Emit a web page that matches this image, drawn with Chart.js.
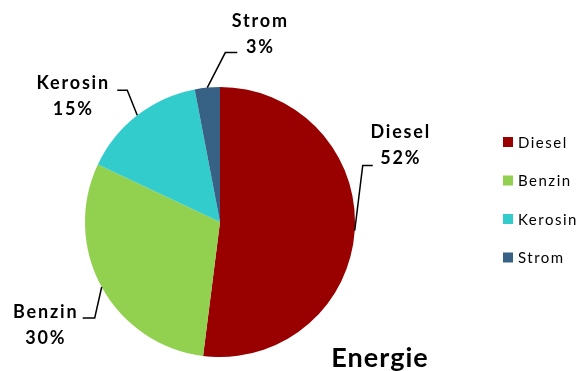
<!DOCTYPE html>
<html>
<head>
<meta charset="utf-8">
<script src="https://cdn.jsdelivr.net/npm/chart.js@4"></script>
<style>
  html, body { margin: 0; padding: 0; background: #fff; }
  #wrap { width: 583px; height: 371px; }
</style>
</head>
<body>
<div id="wrap"><canvas id="grafico-energie" width="583" height="371"></canvas></div>
<script>
// data
const categorias = ['Diesel', 'Benzin', 'Kerosin', 'Strom'];
const anteile = [52, 30, 15, 3];
const titel = 'Energie';

const farben = ['#990000', '#92D050', '#33CCCC', '#376185'];

// label offsets relative to the outer midpoint of each slice
const labelStil = [
    { knick: [8, -65], ende: [18, -65], text: [46, -98] },
    { knick: [-7, 31], ende: [-19, 31], text: [-56, 25] },
    { knick: [-10, -25], ende: [-20, -25], text: [-64, -32] },
    { knick: [18, -35], ende: [30, -35], text: [53, -66] }
];

const schrift = 'Lato, "Open Sans", sans-serif';

const etikettenPlugin = {
    id: 'etiketten',
    afterDatasetsDraw(chart) {
        const ctx = chart.ctx;
        const meta = chart.getDatasetMeta(0);
        ctx.save();
        meta.data.forEach(function(arc, i) {
            const mitte = (arc.startAngle + arc.endAngle) / 2;
            const ax = arc.x + Math.cos(mitte) * arc.outerRadius;
            const ay = arc.y + Math.sin(mitte) * arc.outerRadius;
            const s = labelStil[i];
            ctx.strokeStyle = '#000';
            ctx.lineWidth = 1.5;
            ctx.beginPath();
            ctx.moveTo(ax, ay);
            ctx.lineTo(ax + s.knick[0], ay + s.knick[1]);
            ctx.lineTo(ax + s.ende[0], ay + s.ende[1]);
            ctx.stroke();

            ctx.fillStyle = '#000';
            ctx.font = 'bold 18px ' + schrift;
            ctx.letterSpacing = '1.8px';
            ctx.textAlign = 'center';
            ctx.textBaseline = 'middle';
            ctx.fillText(chart.data.labels[i], ax + s.text[0], ay + s.text[1]);
            ctx.fillText(chart.data.datasets[0].data[i] + '%', ax + s.text[0], ay + s.text[1] + 26);
        });

        // legend on the right
        ctx.font = '15px ' + schrift;
        ctx.letterSpacing = '1.5px';
        ctx.textAlign = 'left';
        ctx.textBaseline = 'middle';
        chart.data.labels.forEach(function(name, i) {
            const y = 142 + i * 38.5;
            ctx.fillStyle = farben[i];
            ctx.fillRect(503, y - 5, 10, 10);
            ctx.fillStyle = '#000';
            ctx.fillText(name, 518, y + 1);
        });

        // title
        ctx.font = 'bold 27px ' + schrift;
        ctx.letterSpacing = '1px';
        ctx.textAlign = 'center';
        ctx.textBaseline = 'alphabetic';
        ctx.fillText(titel, 380, 367);
        ctx.restore();
    }
};

document.addEventListener('DOMContentLoaded', function() {
    const ctx = document.getElementById('grafico-energie').getContext('2d');
    new Chart(ctx, {
        type: 'pie',
        data: {
            labels: categorias,
            datasets: [{
                data: anteile,
                backgroundColor: farben,
                borderWidth: 0
            }]
        },
        options: {
            responsive: false,
            animation: false,
            layout: {
                padding: { left: 85, right: 228, top: 87, bottom: 14 }
            },
            plugins: {
                legend: { display: false },
                tooltip: { enabled: false }
            }
        },
        plugins: [etikettenPlugin]
    });
});
</script>
</body>
</html>
